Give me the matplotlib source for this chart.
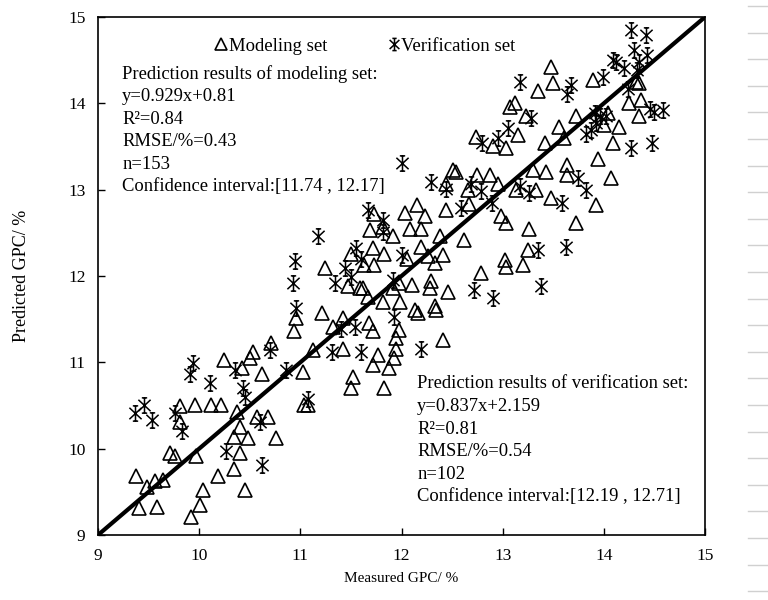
import matplotlib
matplotlib.use("Agg")
import matplotlib.pyplot as plt
from matplotlib.path import Path
from matplotlib.lines import Line2D
import numpy as np

# modeling set (triangles)
mod_x = [10.96, 10.94, 10.71, 10.53, 10.50, 10.25, 10.42, 10.62, 11.03, 9.81, 9.96, 10.12, 10.22,
         10.37, 9.81, 10.57, 10.68, 10.40, 10.34, 10.48, 10.76, 11.04, 9.71, 9.76, 9.97, 10.40,
         10.34, 10.19, 9.38, 9.48, 9.56, 9.64, 10.04, 10.45, 9.41, 9.58, 10.01, 9.92,
         11.47, 11.59, 11.62, 11.67, 11.98, 11.92, 12.10, 12.29, 12.28, 12.46, 12.79, 11.82, 11.99,
         12.13, 12.16, 12.33, 12.34, 11.21, 11.32, 11.42, 11.68, 11.72, 11.98, 11.95, 11.95, 11.93,
         11.88, 11.77, 11.72, 11.42, 11.13, 11.52, 11.50, 11.83, 12.41, 11.08,
         12.44, 12.54, 12.51, 12.66, 12.75, 12.87, 12.95, 12.74, 12.90, 13.03, 13.07, 12.67, 12.44,
         12.98, 11.73, 12.03, 12.15, 12.23, 11.69, 11.82, 11.92, 12.08, 12.19, 12.38, 12.62, 11.50,
         11.72, 11.83, 11.63, 12.05, 12.19, 12.26, 12.41, 12.33, 11.73, 11.24, 13.02, 13.03,
         13.48, 13.35, 13.50, 13.89, 14.32, 14.35, 13.12, 14.25, 14.37, 14.35, 13.23, 13.72, 14.04,
         14.00, 14.15, 13.56, 13.15, 13.42, 13.61, 14.09, 13.94, 13.30, 13.43, 13.64, 13.64, 14.07,
         13.13, 13.33, 13.48, 13.92, 13.03, 13.26, 13.72, 13.25, 13.20]
mod_y = [11.51, 11.36, 11.22, 11.12, 11.05, 11.03, 10.93, 10.87, 10.89, 10.49, 10.51, 10.51, 10.51,
         10.43, 10.31, 10.37, 10.37, 10.25, 10.14, 10.12, 10.12, 10.51, 9.95, 9.91, 9.91, 9.95,
         9.77, 9.68, 9.68, 9.56, 9.62, 9.64, 9.52, 9.52, 9.31, 9.33, 9.35, 9.21,
         11.88, 11.86, 11.86, 11.76, 11.92, 11.86, 11.90, 11.94, 11.86, 11.82, 12.03, 11.70, 11.70,
         11.61, 11.57, 11.65, 11.61, 11.57, 11.41, 11.51, 11.45, 11.36, 11.38, 11.28, 11.16, 11.05,
         10.93, 11.09, 10.97, 11.16, 11.14, 10.83, 10.70, 10.70, 11.26, 10.51,
         13.07, 13.21, 13.23, 13.00, 13.17, 13.17, 13.07, 13.61, 13.50, 13.48, 13.96, 12.83, 12.77,
         12.69, 12.72, 12.73, 12.82, 12.70, 12.53, 12.57, 12.46, 12.55, 12.55, 12.46, 12.42, 12.26,
         12.32, 12.26, 12.13, 12.20, 12.34, 12.23, 12.24, 12.15, 12.13, 12.09, 12.19, 12.11,
         14.42, 14.14, 14.24, 14.27, 14.25, 14.24, 14.00, 14.00, 14.04, 13.85, 13.85, 13.85, 13.89,
         13.75, 13.73, 13.73, 13.63, 13.54, 13.60, 13.54, 13.35, 13.23, 13.21, 13.29, 13.17, 13.13,
         13.00, 13.00, 12.90, 12.82, 12.61, 12.55, 12.61, 12.30, 12.13]

# verification set (asterisks)
ver_x = [10.93, 10.96, 9.94, 9.91, 10.11, 10.35, 10.43, 10.45, 10.70, 10.86, 9.37, 9.45, 9.53,
         9.76, 9.83, 10.60, 10.27, 10.62,
         11.34, 11.50, 11.92, 12.72, 12.90, 11.93, 11.40, 11.54, 11.31, 11.60, 12.19, 11.08, 13.38,
         12.00, 11.17, 10.95, 12.29, 12.44, 12.69, 12.79, 12.89, 12.80, 12.95, 13.05, 12.59, 11.67,
         11.82, 11.82, 11.55, 11.60, 12.00, 11.44,
         14.27, 14.42, 14.30, 14.43, 14.09, 14.12, 14.20, 14.35, 14.33, 13.17, 13.68, 13.64, 13.99,
         14.24, 14.46, 14.58, 14.50, 13.28, 13.91, 13.96, 14.02, 13.92, 13.82, 13.87, 14.27, 14.48,
         13.74, 13.17, 13.26, 13.82, 13.59, 13.35, 13.63]
ver_y = [11.92, 11.63, 10.99, 10.87, 10.76, 10.91, 10.70, 10.60, 11.14, 10.91, 10.41, 10.51, 10.33,
         10.41, 10.20, 10.31, 9.97, 9.81,
         11.92, 11.99, 11.95, 11.84, 11.74, 11.53, 11.39, 11.41, 11.12, 11.12, 11.16, 10.58, 11.88,
         13.31, 12.46, 12.17, 13.09, 13.01, 13.07, 12.98, 12.84, 13.54, 13.60, 13.71, 12.79, 12.77,
         12.65, 12.51, 12.32, 12.20, 12.24, 12.09,
         14.85, 14.79, 14.62, 14.56, 14.50, 14.48, 14.41, 14.48, 14.39, 14.25, 14.21, 14.11, 14.31,
         14.17, 13.94, 13.92, 13.90, 13.83, 13.89, 13.85, 13.85, 13.77, 13.65, 13.69, 13.48, 13.54,
         13.13, 13.04, 12.96, 13.00, 12.84, 12.30, 12.34]

ticks = [9, 10, 11, 12, 13, 14, 15]

texto_mod = ("Prediction results of modeling set:\ny=0.929x+0.81\nR\u00b2=0.84\n"
             "RMSE/%=0.43\nn=153\nConfidence interval:[11.74 , 12.17]")
texto_ver = ("Prediction results of verification set:\ny=0.837x+2.159\nR\u00b2=0.81\n"
             "RMSE/%=0.54\nn=102\nConfidence interval:[12.19 , 12.71]")

plt.rcParams['font.family'] = ['Liberation Serif', 'DejaVu Serif']

# asterisk marker: vertical bar + X + small caps
v = [(0, -1), (0, 1), (-0.8, -0.75), (0.8, 0.75), (-0.8, 0.75), (0.8, -0.75),
     (-0.35, 1), (0.35, 1), (-0.35, -1), (0.35, -1)]
c = [Path.MOVETO, Path.LINETO] * 5
asterisco = Path(v, c)

fig = plt.figure(figsize=(7.68, 6.0), dpi=100)
ax = fig.add_axes([0.1276, 0.1083, 0.7904, 0.8634])

ax.plot([9, 15], [9, 15], color='black', lw=3, zorder=3)
ax.plot(mod_x, mod_y, ls='none', marker='^', ms=10, mfc='none', mec='black', mew=1.2,
        label='Modeling set', zorder=2)
ax.plot(ver_x, ver_y, ls='none', marker=asterisco, ms=11, mfc='none', mec='black', mew=1.1,
        label='Verification set', zorder=2)

ax.set_xlim(9, 15)
ax.set_ylim(9, 15)
ax.set_xticks(ticks)
ax.set_yticks(ticks)
ax.tick_params(direction='in', length=5, width=1, labelsize=12.5, pad=9)
for s in ax.spines.values():
    s.set_linewidth(1.2)

ax.set_xlabel('Measured GPC/ %', fontsize=11, labelpad=6)
ax.set_ylabel('Predicted GPC/ %', fontsize=13, labelpad=27)

leg = ax.legend(loc='upper left', bbox_to_anchor=(0.177, 0.978), ncol=2, frameon=False,
                fontsize=13.5, handlelength=0.7, handletextpad=0.05, columnspacing=3.2,
                borderpad=0, markerscale=0.8)

ax.text(0.040, 0.908, texto_mod, transform=ax.transAxes, fontsize=13.4, va='top',
        linespacing=1.43)
ax.text(0.526, 0.308, texto_ver, transform=ax.transAxes, fontsize=13.4, va='top',
        linespacing=1.43)

# faint lines at right edge of the screenshot
for yy in np.arange(6, 600, 26.6):
    fig.add_artist(Line2D([748 / 768, 1.0], [1 - yy / 600, 1 - yy / 600],
                          transform=fig.transFigure, color='#d0d0d0', lw=1))

fig.savefig('out.png', dpi=100)
